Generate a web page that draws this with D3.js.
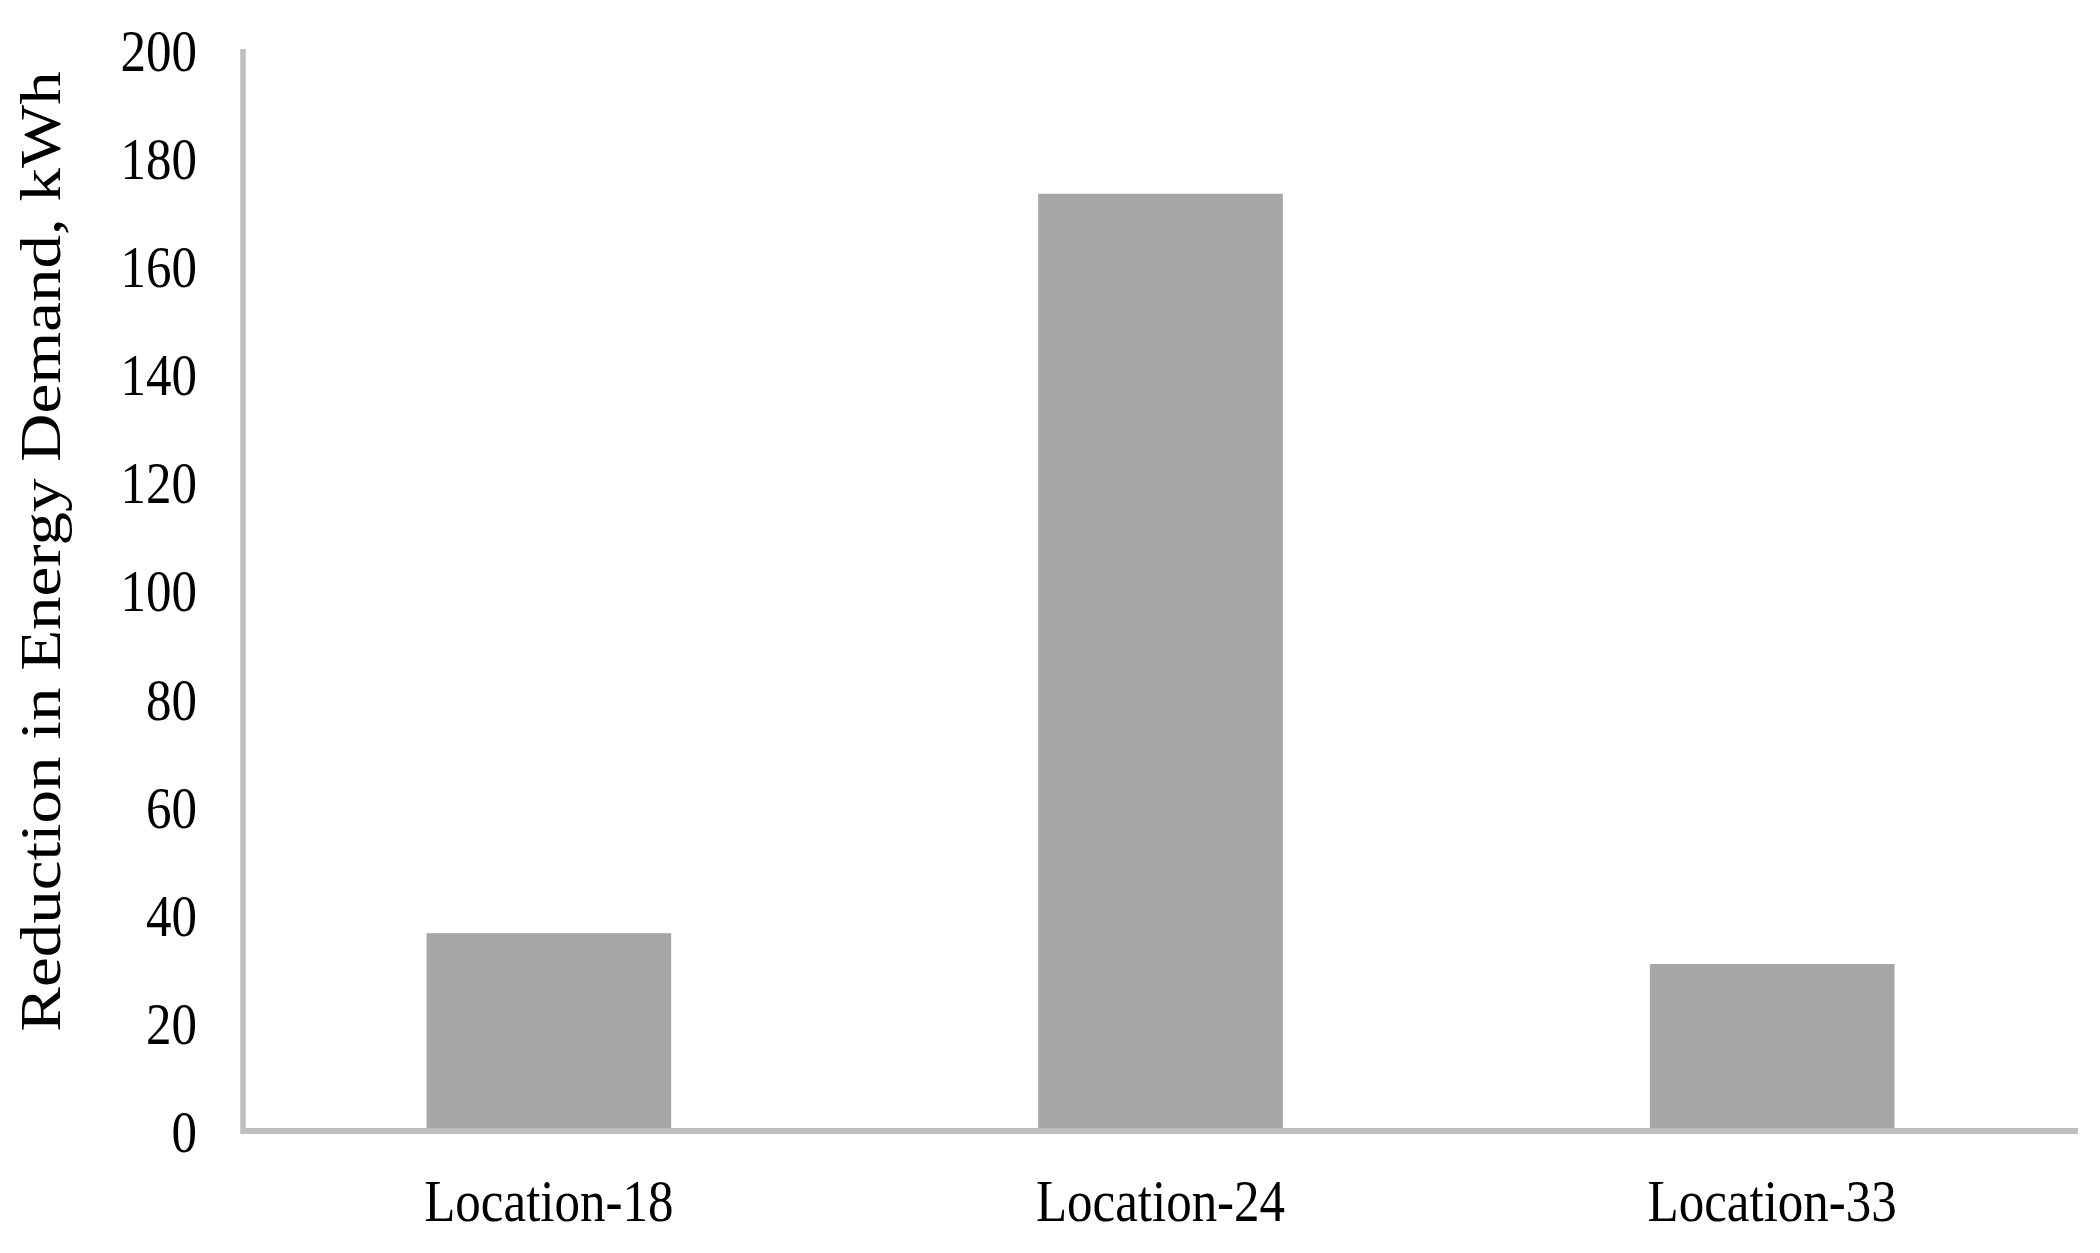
<!DOCTYPE html>
<html>
<head>
<meta charset="utf-8">
<script src="https://cdn.jsdelivr.net/npm/d3@7"></script>
<style>
  body { margin: 0; background: #fff; }
  svg text { font-family: "Liberation Serif", "Times New Roman", serif; fill: #000; }
</style>
</head>
<body>
<svg id="chart" width="2100" height="1253"></svg>
<script>
// data
const locations = ["Location-18", "Location-24", "Location-33"];
const reduction = [36.6, 173.4, 30.9];
const yTicks = [0, 20, 40, 60, 80, 100, 120, 140, 160, 180, 200];
const yTitle = "Reduction in Energy Demand, kWh";

const svg = d3.select("#chart");
const plotLeft = 243, plotRight = 2078, plotTop = 50, plotBottom = 1131;
const squash = 0.85; // text in the reference is a bit narrow

const x = d3.scaleBand().domain(locations).range([plotLeft, plotRight])
    .paddingInner(0.6).paddingOuter(0.3);
const y = d3.scaleLinear().domain([0, 200]).range([plotBottom, plotTop]);

// bars
svg.append("g").selectAll("rect").data(reduction).enter().append("rect")
    .attr("x", (d, i) => x(locations[i]))
    .attr("y", d => y(d))
    .attr("width", x.bandwidth())
    .attr("height", d => y(0) - y(d))
    .attr("fill", "#a6a6a6");

// y axis
const yAxis = svg.append("g").attr("transform", `translate(${plotLeft},0)`)
    .call(d3.axisLeft(y).tickValues(yTicks).tickSize(0).tickSizeOuter(0));
yAxis.select(".domain").attr("stroke", "#bfbfbf").attr("stroke-width", 5.5)
    .attr("d", `M0,${plotTop - 1}V${plotBottom + 3}`);
yAxis.selectAll(".tick text")
    .attr("x", null).attr("dy", "0.34em")
    .attr("transform", `translate(-46,0) scale(${squash},1)`)
    .attr("text-anchor", "end")
    .style("font-size", "60px")
    .style("font-family", "Liberation Serif");

// x axis
const xAxis = svg.append("g").attr("transform", `translate(0,${plotBottom})`)
    .call(d3.axisBottom(x).tickSize(0).tickSizeOuter(0));
xAxis.select(".domain").attr("stroke", "#bfbfbf").attr("stroke-width", 6)
    .attr("d", `M${plotLeft - 2},0H${plotRight}`);
xAxis.selectAll(".tick text")
    .attr("y", null).attr("dy", null)
    .attr("transform", `translate(0,90) scale(${squash},1)`)
    .attr("text-anchor", "middle")
    .style("font-size", "60px")
    .style("font-family", "Liberation Serif");

// y title
svg.append("text")
    .attr("transform", `translate(60,${(73 + 1030) / 2}) scale(${squash},1) rotate(-90)`)
    .attr("text-anchor", "middle")
    .style("font-size", "67px")
    .text(yTitle);
</script>
</body>
</html>
